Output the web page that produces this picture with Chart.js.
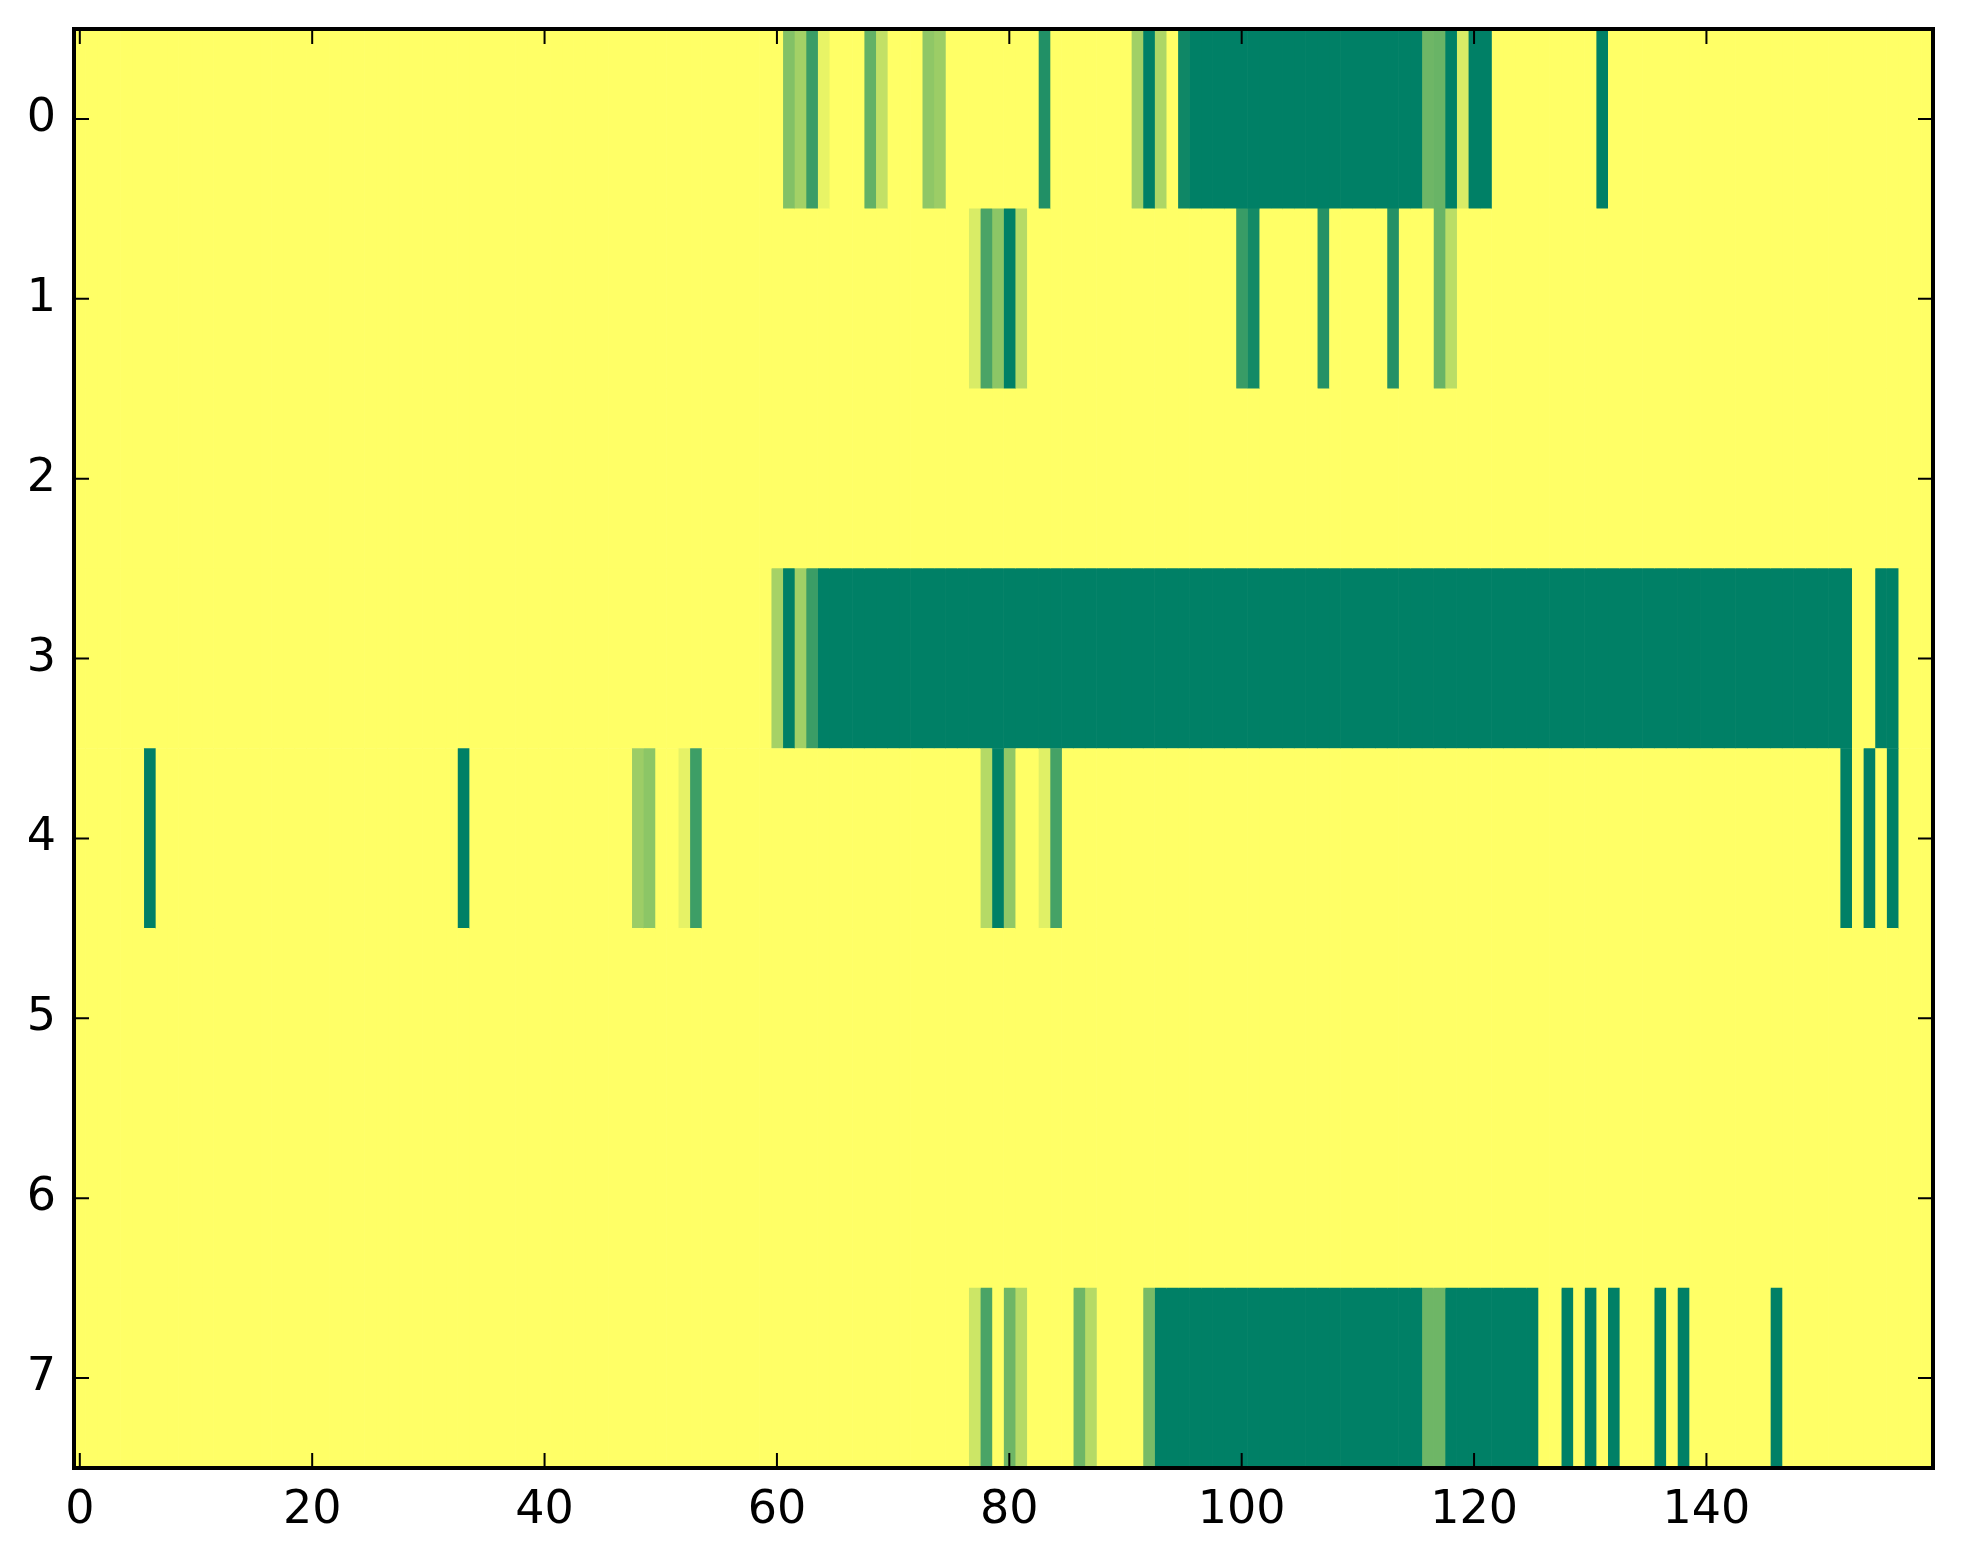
<!DOCTYPE html>
<html><head><meta charset="utf-8">
<script src="https://cdn.jsdelivr.net/npm/chart.js@4/dist/chart.umd.min.js"></script>
<style>html,body{margin:0;padding:0;background:#fff;}</style>
</head><body>
<canvas id="c" width="1963" height="1564"></canvas>
<script>
// Row labels (y categories) and x tick values
const rowLabels = ['0', '1', '2', '3', '4', '5', '6', '7'];
const xTickValues = [0, 20, 40, 60, 80, 100, 120, 140];

// Cell values per row (0 = dark green, 1 = yellow), 160 columns each, 20 per line
const row0 = [
  1,1,1,1,1,1,1,1,1,1,1,1,1,1,1,1,1,1,1,1,
  1,1,1,1,1,1,1,1,1,1,1,1,1,1,1,1,1,1,1,1,
  1,1,1,1,1,1,1,1,1,1,1,1,1,1,1,1,1,1,1,1,
  1,.51,.64,.23,.91,1,1,1,.39,.76,1,1,1,.56,.61,1,1,1,1,1,
  1,1,1,.13,1,1,1,1,1,1,1,.63,0,.68,1,.06,0,0,0,0,
  0,0,0,0,0,0,0,0,0,0,0,0,0,0,0,0,.43,.41,0,.85,
  0,0,1,1,1,1,1,1,1,1,1,0,1,1,1,1,1,1,1,1,
  1,1,1,1,1,1,1,1,1,1,1,1,1,1,1,1,1,1,1,1
];
const row1 = [
  1,1,1,1,1,1,1,1,1,1,1,1,1,1,1,1,1,1,1,1,
  1,1,1,1,1,1,1,1,1,1,1,1,1,1,1,1,1,1,1,1,
  1,1,1,1,1,1,1,1,1,1,1,1,1,1,1,1,1,1,1,1,
  1,1,1,1,1,1,1,1,1,1,1,1,1,1,1,1,1,.85,.29,.55,
  0,.71,1,1,1,1,1,1,1,1,1,1,1,1,1,1,1,1,1,1,
  .22,.08,1,1,1,1,1,.14,1,1,1,1,1,.14,1,1,1,.41,.73,1,
  1,1,1,1,1,1,1,1,1,1,1,1,1,1,1,1,1,1,1,1,
  1,1,1,1,1,1,1,1,1,1,1,1,1,1,1,1,1,1,1,1
];
const row2 = [
  1,1,1,1,1,1,1,1,1,1,1,1,1,1,1,1,1,1,1,1,
  1,1,1,1,1,1,1,1,1,1,1,1,1,1,1,1,1,1,1,1,
  1,1,1,1,1,1,1,1,1,1,1,1,1,1,1,1,1,1,1,1,
  1,1,1,1,1,1,1,1,1,1,1,1,1,1,1,1,1,1,1,1,
  1,1,1,1,1,1,1,1,1,1,1,1,1,1,1,1,1,1,1,1,
  1,1,1,1,1,1,1,1,1,1,1,1,1,1,1,1,1,1,1,1,
  1,1,1,1,1,1,1,1,1,1,1,1,1,1,1,1,1,1,1,1,
  1,1,1,1,1,1,1,1,1,1,1,1,1,1,1,1,1,1,1,1
];
const row3 = [
  1,1,1,1,1,1,1,1,1,1,1,1,1,1,1,1,1,1,1,1,
  1,1,1,1,1,1,1,1,1,1,1,1,1,1,1,1,1,1,1,1,
  1,1,1,1,1,1,1,1,1,1,1,1,1,1,1,1,1,1,1,1,
  .65,0,.63,.23,0,0,0,0,0,0,0,0,0,0,0,0,0,0,0,0,
  0,0,0,0,0,0,0,0,0,0,0,0,0,0,0,0,0,0,0,0,
  0,0,0,0,0,0,0,0,0,0,0,0,0,0,0,0,0,0,0,0,
  0,0,0,0,0,0,0,0,0,0,0,0,0,0,0,0,0,0,0,0,
  0,0,0,0,0,0,0,0,0,0,0,0,0,1,1,0,0,1,1,1
];
const row4 = [
  1,1,1,1,1,1,0,1,1,1,1,1,1,1,1,1,1,1,1,1,
  1,1,1,1,1,1,1,1,1,1,1,1,1,0,1,1,1,1,1,1,
  1,1,1,1,1,1,1,1,.61,.55,1,1,.9,.24,1,1,1,1,1,1,
  1,1,1,1,1,1,1,1,1,1,1,1,1,1,1,1,1,1,.71,0,
  .57,1,1,.88,.27,1,1,1,1,1,1,1,1,1,1,1,1,1,1,1,
  1,1,1,1,1,1,1,1,1,1,1,1,1,1,1,1,1,1,1,1,
  1,1,1,1,1,1,1,1,1,1,1,1,1,1,1,1,1,1,1,1,
  1,1,1,1,1,1,1,1,1,1,1,1,0,1,0,1,0,1,1,1
];
const row5 = [
  1,1,1,1,1,1,1,1,1,1,1,1,1,1,1,1,1,1,1,1,
  1,1,1,1,1,1,1,1,1,1,1,1,1,1,1,1,1,1,1,1,
  1,1,1,1,1,1,1,1,1,1,1,1,1,1,1,1,1,1,1,1,
  1,1,1,1,1,1,1,1,1,1,1,1,1,1,1,1,1,1,1,1,
  1,1,1,1,1,1,1,1,1,1,1,1,1,1,1,1,1,1,1,1,
  1,1,1,1,1,1,1,1,1,1,1,1,1,1,1,1,1,1,1,1,
  1,1,1,1,1,1,1,1,1,1,1,1,1,1,1,1,1,1,1,1,
  1,1,1,1,1,1,1,1,1,1,1,1,1,1,1,1,1,1,1,1
];
const row6 = [
  1,1,1,1,1,1,1,1,1,1,1,1,1,1,1,1,1,1,1,1,
  1,1,1,1,1,1,1,1,1,1,1,1,1,1,1,1,1,1,1,1,
  1,1,1,1,1,1,1,1,1,1,1,1,1,1,1,1,1,1,1,1,
  1,1,1,1,1,1,1,1,1,1,1,1,1,1,1,1,1,1,1,1,
  1,1,1,1,1,1,1,1,1,1,1,1,1,1,1,1,1,1,1,1,
  1,1,1,1,1,1,1,1,1,1,1,1,1,1,1,1,1,1,1,1,
  1,1,1,1,1,1,1,1,1,1,1,1,1,1,1,1,1,1,1,1,
  1,1,1,1,1,1,1,1,1,1,1,1,1,1,1,1,1,1,1,1
];
const row7 = [
  1,1,1,1,1,1,1,1,1,1,1,1,1,1,1,1,1,1,1,1,
  1,1,1,1,1,1,1,1,1,1,1,1,1,1,1,1,1,1,1,1,
  1,1,1,1,1,1,1,1,1,1,1,1,1,1,1,1,1,1,1,1,
  1,1,1,1,1,1,1,1,1,1,1,1,1,1,1,1,1,.8,.29,1,
  .43,.71,1,1,1,1,.43,.71,1,1,1,1,.47,0,0,0,0,0,0,0,
  0,0,0,0,0,0,0,0,0,0,0,0,0,0,0,0,.43,.43,0,0,
  0,0,0,0,0,0,1,1,0,1,0,1,0,1,1,1,0,1,0,1,
  1,1,1,1,1,1,0,1,1,1,1,1,1,1,1,1,1,1,1,1
];
const rows = [row0, row1, row2, row3, row4, row5, row6, row7];
const nCols = row0.length;

// matplotlib "summer" colormap
function summer(v) {
  return 'rgb(' + Math.round(255 * v) + ',' + Math.round(255 * (0.5 + v / 2)) + ',102)';
}

const datasets = [];
for (let c = 0; c < nCols; c++) {
  datasets.push({
    data: rows.map(() => [c - 0.5, c + 0.5]),
    backgroundColor: rows.map(r => summer(r[c])),
    borderWidth: 0,
    grouped: false,
    barPercentage: 1,
    categoryPercentage: 1
  });
}

const FONT = { family: 'DejaVu Sans', size: 46 };

function zeroPad(s) { s.paddingTop = 0; s.paddingBottom = 0; s.paddingLeft = 0; s.paddingRight = 0; }

const frame = {
  id: 'frame',
  afterDatasetsDraw(chart) {
    const { ctx, chartArea: a, scales } = chart;
    const x = scales.x, y = scales.y;
    const L = 15;
    ctx.save();
    ctx.strokeStyle = '#000';
    ctx.lineWidth = 2;
    ctx.beginPath();
    x.ticks.forEach(t => {
      const px = x.getPixelForValue(t.value);
      ctx.moveTo(px, a.bottom); ctx.lineTo(px, a.bottom - L);
      ctx.moveTo(px, a.top); ctx.lineTo(px, a.top + L);
    });
    y.ticks.forEach((t, i) => {
      const py = y.getPixelForTick(i);
      ctx.moveTo(a.left, py); ctx.lineTo(a.left + L, py);
      ctx.moveTo(a.right, py); ctx.lineTo(a.right - L, py);
    });
    ctx.stroke();
    ctx.lineWidth = 4;
    ctx.strokeRect(a.left, a.top, a.right - a.left, a.bottom - a.top);
    ctx.restore();
  }
};

new Chart(document.getElementById('c'), {
  type: 'bar',
  data: { labels: rowLabels, datasets },
  options: {
    indexAxis: 'y',
    responsive: false,
    animation: false,
    devicePixelRatio: 1,
    layout: { padding: { top: 29, right: 30, left: 0, bottom: 0 } },
    plugins: { legend: { display: false }, tooltip: { enabled: false } },
    scales: {
      x: {
        type: 'linear',
        min: -0.5,
        max: nCols - 0.5,
        afterBuildTicks: s => { s.ticks = xTickValues.map(v => ({ value: v })); },
        afterFit: s => { s.height = 96; zeroPad(s); },
        grid: { display: false },
        border: { display: false },
        ticks: { font: FONT, color: '#000', padding: 7, maxRotation: 0, autoSkip: false }
      },
      y: {
        type: 'category',
        afterFit: s => { s.width = 74; zeroPad(s); },
        grid: { display: false },
        border: { display: false },
        ticks: { font: FONT, color: '#000', padding: 10, autoSkip: false }
      }
    }
  },
  plugins: [frame]
});
</script>
</body></html>
